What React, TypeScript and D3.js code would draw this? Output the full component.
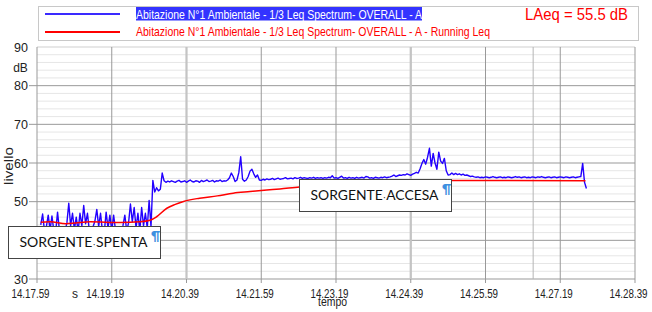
import React from "react";
import * as d3 from "d3";

// ---- data ----
const xTickLabels = ["14.17.59", "14.19.19", "14.20.39", "14.21.59", "14.23.19", "14.24.39", "14.25.59", "14.27.19", "14.28.39"];
const xTickSeconds = [0, 80, 160, 240, 320, 400, 480, 560, 640];
const cursorSeconds = [160, 400];
const markerSeconds = [531];
const yTicks = [30, 40, 50, 60, 70, 80, 90];
const yMinor = [32, 34, 36, 38, 42, 44, 46, 48, 52, 54, 56, 58, 62, 64, 66, 68, 72, 74, 76, 78, 82, 84, 86, 88];

const blueStart = 4;
const blueStep = 2;
const blueLevels = [
  44, 46.8, 42.5, 43.5, 46.5, 42.7, 46.3, 42.5, 42.2, 47.3,
  42.6, 42.1, 43.2, 42.3, 44.5, 49.6, 43.8, 47, 42.8, 46,
  42.4, 47, 43.8, 49, 44.3, 47, 42.5, 42.2, 43.5, 45,
  48, 43.6, 47, 42.4, 42.1, 47.3, 43.2, 46.5, 42.5, 46.5,
  42.7, 42.2, 43.3, 42.4, 43.8, 46.5, 42.5, 44.5, 49.4, 44.8,
  48.5, 43.2, 47, 42.5, 48.5, 43.8, 47, 43.2, 50.3, 43.5,
  // t = 124 ...
  55.5, 52.5, 53.6, 52.8, 53.2, 57.4, 55.4, 55.0, 55.3, 55.1,
  55.4, 55.2, 55.0, 55.3, 55.5, 55.1, 55.2, 55.4, 55.0, 55.3,
  55.6, 55.2, 55.1, 55.4, 55.3, 55.0, 55.5, 55.2, 55.4, 55.6,
  55.2, 55.3, 55.5, 55.1, 55.4, 55.3, 55.6, 55.2, 55.4, 55.3,
  55.6, 56.2, 57.4, 56.5, 55.2, 55.6, 57.5, 61.6, 55.8, 55.3,
  55.6, 56.5, 57.9, 58.4, 57.2, 56.3, 56.9, 55.6, 55.5, 55.8,
  55.6, 55.9, 55.7, 55.8, 56.0, 55.7, 55.9, 56.1, 55.8, 55.9,
  56.0, 56.2, 55.9, 56.0, 56.1, 55.9, 56.2, 56.0, 56.1, 56.3,
  56.0, 56.2, 56.1, 56.0, 56.2, 56.1, 56.3, 56.0, 56.2, 56.1,
  56.2, 56.0, 56.2, 56.1, 56.3, 56.2, 56.7, 56.1, 56.2, 56.0,
  56.3, 56.6, 56.1, 56.2, 56.0, 56.3, 56.1, 56.2, 56.0, 56.3,
  56.1, 56.2, 56.3, 56.1, 56.5, 56.4, 56.1, 56.2, 56.0, 56.3,
  56.2, 56.1, 56.3, 56.2, 56.4, 56.2, 56.3, 56.4, 56.6, 56.9,
  56.5, 56.7, 56.9, 56.8, 57.0, 56.9, 57.2, 57.0, 56.8, 57.1,
  57.3, 57.6, 57.4, 58.5, 59.9, 60.9, 59.7, 61.5, 63.8, 59.2,
  62.5, 60.0, 58.4, 62.8, 60.5, 59.9, 61.2, 58.0, 56.9, 57.0,
  57.4, 57.0, 57.3, 57.0, 57.2, 56.9, 57.1, 56.8, 56.9, 56.7,
  56.5, 56.6, 56.4, 56.3, 56.4, 56.2, 56.3, 56.2, 56.4, 56.3,
  56.2, 56.3, 56.5, 56.3, 56.2, 56.3, 56.4, 56.2, 56.3, 56.2,
  56.4, 56.3, 56.2, 56.3, 56.5, 56.3, 56.4, 56.2, 56.3, 56.4,
  56.2, 56.3, 56.2, 56.4, 56.3, 56.2, 56.4, 56.3, 56.5, 56.3,
  56.2, 56.3, 56.4, 56.2, 56.3, 56.4, 56.2, 56.3, 56.4, 56.3,
  56.2, 56.4, 56.3, 56.2, 56.3, 56.4, 56.2, 56.3, 56.4, 56.5,
  59.9, 55.0, 53.4,
];

const redSeconds = [4, 14, 31, 41, 57, 89, 110, 121, 128, 139, 148, 156, 174, 193, 210, 228, 246, 260, 281, 335, 388, 444, 495, 587];
const redLevels = [44.7, 44.8, 44.3, 44.5, 44.8, 44.6, 44.8, 45.2, 46.1, 48.3, 49.3, 50.0, 50.9, 51.5, 52.2, 52.6, 53.0, 53.3, 53.8, 54.6, 55.1, 55.5, 55.5, 55.4];

const legendBlue = "Abitazione N°1 Ambientale - 1/3 Leq Spectrum- OVERALL - A";
const legendRed = "Abitazione N°1 Ambientale - 1/3 Leq Spectrum- OVERALL - A - Running Leq";
const laeqText = "LAeq = 55.5 dB";
const noteOffWords = ["SORGENTE", "SPENTA"];
const noteOnWords = ["SORGENTE", "ACCESA"];

// ---- layout ----
const W = 652, H = 312;
const left = 37, right = 635, top = 47, bottom = 279;
const narrow = "'Liberation Sans Narrow', 'Arial Narrow', 'Liberation Sans', sans-serif";
const noteFont = "Lato, 'Open Sans', sans-serif";

function Note({ bx, by, words }: { bx: number; by: number; words: string[] }) {
  return (
    <g>
      <rect x={bx + 0.5} y={by + 0.5} width={152} height={32} fill="#fff" stroke="#444" strokeWidth={1} />
      <text x={bx + 11.5} y={by + 21} fontSize={14} fill="#111" fontFamily={noteFont} textLength={128} lengthAdjust="spacingAndGlyphs">
        {words[0]}
        <tspan fontSize={7} dy={-0.5}>{"\u2009·\u2009"}</tspan>
        <tspan fontSize={14} dy={0.5}>{words[1]}</tspan>
      </text>
      <text x={bx + 143} y={by + 15} fontSize={12.5} fontWeight="bold" fill="#3d8fe0" fontFamily={noteFont}>¶</text>
    </g>
  );
}

export default function App() {
  const x = d3.scaleLinear().domain([0, 640]).range([left, right]);
  const y = d3.scaleLinear().domain([30, 90]).range([bottom, top]);

  const blueData = blueLevels.map((v, i) => [blueStart + i * blueStep, v] as [number, number]);
  const redData = redSeconds.map((t, i) => [t, redLevels[i]] as [number, number]);

  const blueLine = d3.line<[number, number]>().x(d => x(d[0])).y(d => y(d[1]))(blueData) || "";
  const redLine = d3.line<[number, number]>().x(d => x(d[0])).y(d => y(d[1])).curve(d3.curveMonotoneX)(redData) || "";

  return (
    <svg width={W} height={H} style={{ position: "absolute", left: 0, top: 0, background: "#fff" }}
      fontFamily="'Liberation Sans', Arial, sans-serif">
      {/* legend */}
      <rect x={38.5} y={6.5} width={600} height={34} fill="#fff" stroke="#c8c8c8" />
      <line x1={45} x2={120} y1={14} y2={14} stroke="#3a2aff" strokeWidth={2} />
      <rect x={136} y={7} width={286} height={13.5} fill="#3333ff" />
      <text x={136} y={18.5} fontSize={13} fill="#fff" fontFamily={narrow} textLength={286} lengthAdjust="spacingAndGlyphs">{legendBlue}</text>
      <line x1={45} x2={120} y1={32} y2={32} stroke="#ff0000" strokeWidth={2} />
      <text x={136} y={36} fontSize={13} fill="#ff0000" fontFamily={narrow} textLength={354} lengthAdjust="spacingAndGlyphs">{legendRed}</text>
      <text x={525} y={19.5} fontSize={17} fill="#ff0000" fontFamily={narrow} textLength={103} lengthAdjust="spacingAndGlyphs">{laeqText}</text>

      {/* minor horizontal grid */}
      {yMinor.map(v => (
        <line key={"m" + v} x1={left} x2={right} y1={y(v)} y2={y(v)} stroke="#e6e6e6" strokeWidth={1} />
      ))}
      {/* major horizontal grid */}
      {yTicks.map(v => (
        <line key={"h" + v} x1={v === 90 ? left : 29} x2={right} y1={y(v)} y2={y(v)} stroke={v === 90 ? "#cfcfcf" : "#999"} strokeWidth={1} />
      ))}
      {/* vertical grid */}
      {xTickSeconds.map(t => (
        <line key={"v" + t} x1={x(t)} x2={x(t)} y1={top} y2={bottom + 4} stroke="#999" strokeWidth={1} />
      ))}
      {cursorSeconds.map(t => (
        <line key={"c" + t} x1={x(t)} x2={x(t)} y1={top} y2={bottom} stroke="#c4c4c4" strokeWidth={2.2} />
      ))}
      {markerSeconds.map(t => (
        <line key={"k" + t} x1={x(t)} x2={x(t)} y1={top} y2={bottom} stroke="#b5b5b5" strokeWidth={1} />
      ))}

      {/* y labels */}
      {yTicks.map(v => (
        <text key={"yl" + v} x={28} y={y(v) + 4.5} fontSize={12.5} textAnchor="end" fill="#222">{v}</text>
      ))}
      <text x={20.5} y={72} fontSize={12} textAnchor="middle" fill="#222">dB</text>
      <text transform="translate(13,166) rotate(-90)" fontSize={13} textAnchor="middle" fill="#222" textLength={38} lengthAdjust="spacingAndGlyphs">livello</text>

      {/* x labels */}
      {xTickSeconds.map((t, i) => (
        <text key={"xl" + t} x={x(t) - 6.5} y={298} fontSize={12} textAnchor="middle" fill="#222" fontFamily={narrow} textLength={38} lengthAdjust="spacingAndGlyphs">{xTickLabels[i]}</text>
      ))}
      <text x={75} y={298} fontSize={12} textAnchor="middle" fill="#222">s</text>
      <text x={332.5} y={306} fontSize={12} textAnchor="middle" fill="#222" fontFamily={narrow} textLength={29} lengthAdjust="spacingAndGlyphs">tempo</text>

      {/* series */}
      <path d={blueLine} fill="none" stroke="#2200ff" strokeWidth={1.4} strokeLinejoin="round" />
      <path d={redLine} fill="none" stroke="#ff0000" strokeWidth={1.5} />

      {/* annotation boxes */}
      <Note bx={8} by={226} words={noteOffWords} />
      <Note bx={299} by={179} words={noteOnWords} />
    </svg>
  );
}
